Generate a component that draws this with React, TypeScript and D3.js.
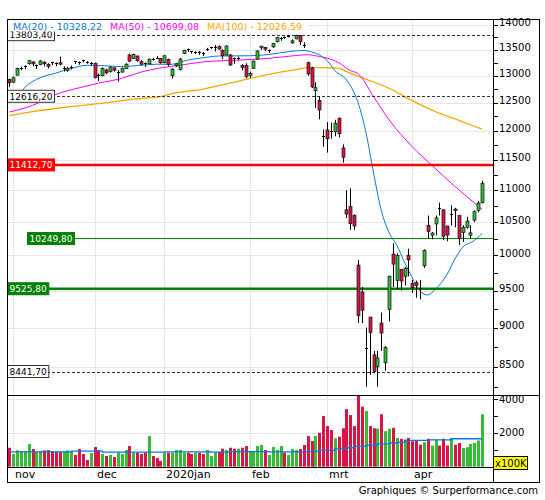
import React from 'react';
import * as d3 from 'd3';

// trading days shown (MM-DD), 31 oct 2019 .. 29 apr 2020
const days = [
  '10-31',
  '11-01', '11-04', '11-05', '11-06', '11-07', '11-08', '11-11', '11-12', '11-13', '11-14', '11-15',
  '11-18', '11-19', '11-20', '11-21', '11-22', '11-25', '11-26', '11-27', '11-28', '11-29',
  '12-02', '12-03', '12-04', '12-05', '12-06', '12-09', '12-10', '12-11', '12-12', '12-13',
  '12-16', '12-17', '12-18', '12-19', '12-20', '12-23', '12-27', '12-30',
  '01-02', '01-03', '01-06', '01-07', '01-08', '01-09', '01-10', '01-13', '01-14', '01-15', '01-16',
  '01-17', '01-20', '01-21', '01-22', '01-23', '01-24', '01-27', '01-28', '01-29', '01-30', '01-31',
  '02-03', '02-04', '02-05', '02-06', '02-07', '02-10', '02-11', '02-12', '02-13', '02-14',
  '02-17', '02-18', '02-19', '02-20', '02-21', '02-24', '02-25', '02-26', '02-27', '02-28',
  '03-02', '03-03', '03-04', '03-05', '03-06', '03-09', '03-10', '03-11', '03-12', '03-13',
  '03-16', '03-17', '03-18', '03-19', '03-20', '03-23', '03-24', '03-25', '03-26', '03-27', '03-30', '03-31',
  '04-01', '04-02', '04-03', '04-06', '04-07', '04-08', '04-09', '04-14', '04-15', '04-16', '04-17',
  '04-20', '04-21', '04-22', '04-23', '04-24', '04-27', '04-28', '04-29',
];

const opens = [
  12930, 12880, 13010, 13135, 13160, 13230, 13265, 13170, 13215, 13260, 13215, 13255, 13235, 13250, 13120, 13100, 13140, 13275, 13255, 13300, 13270, 13210,
  13240, 13010, 13000, 13110, 13080, 13150, 13050, 13070, 13140, 13400, 13330, 13380, 13270, 13240, 13230, 13320, 13350, 13330,
  13250, 13310, 13000, 13190, 13120, 13430, 13510, 13470, 13440, 13460, 13440, 13500, 13530, 13540, 13570, 13490, 13400, 13400, 13340, 13330, 13200, 13200,
  13010, 13140, 13320, 13540, 13550, 13480, 13560, 13660, 13720, 13760, 13770, 13640, 13720, 13780, 13600, 13250, 13150, 12720, 12540, 11910,
  12010, 12000, 11980, 12220, 11700, 10690, 10740, 10600, 9860, 9480, 8730, 9140, 8650, 8500, 9060, 8550, 9240, 10020, 9640, 9800, 9700, 10000,
  9600, 9610, 9530, 9850, 10450, 10300, 10470, 10720, 10690, 10440, 10620, 10700, 10600, 10340, 10420, 10300, 10530, 10680, 10800,
];

const highs = [
  12945, 12985, 13150, 13175, 13200, 13300, 13280, 13215, 13300, 13275, 13240, 13270, 13255, 13370, 13180, 13170, 13195, 13285, 13275, 13310, 13280, 13260,
  13250, 13040, 13160, 13135, 13180, 13160, 13110, 13160, 13240, 13425, 13425, 13390, 13300, 13255, 13330, 13345, 13380, 13340,
  13390, 13330, 13140, 13240, 13340, 13500, 13525, 13480, 13470, 13480, 13460, 13540, 13560, 13600, 13590, 13510, 13590, 13420, 13350, 13370, 13220, 13240,
  13080, 13290, 13490, 13580, 13560, 13510, 13640, 13760, 13760, 13770, 13800, 13710, 13800, 13795, 13650, 13270, 13170, 12880, 12610, 12020,
  12150, 12140, 12190, 12230, 11760, 11000, 11030, 10620, 9935, 9550, 9000, 9140, 8700, 8700, 9200, 8760, 9710, 10180, 10030, 9800, 9830, 10100,
  9650, 9640, 9650, 10090, 10600, 10350, 10600, 10800, 10690, 10440, 10760, 10720, 10600, 10450, 10580, 10450, 10680, 10830, 11150,
];

const lows = [
  12790, 12865, 13005, 13105, 13125, 13215, 13180, 13130, 13200, 13180, 13140, 13205, 13180, 13200, 13080, 13075, 13120, 13225, 13210, 13255, 13230, 13195,
  12950, 12900, 12990, 13030, 13060, 13080, 12890, 13060, 13130, 13260, 13320, 13270, 13200, 13170, 13220, 13290, 13320, 13230,
  13240, 13180, 12950, 13170, 13100, 13420, 13460, 13430, 13420, 13400, 13380, 13480, 13520, 13470, 13500, 13320, 13390, 13190, 13230, 13300, 13100, 12950,
  12960, 13130, 13310, 13500, 13480, 13440, 13540, 13650, 13680, 13720, 13750, 13620, 13710, 13600, 13540, 13000, 12770, 12400, 12200, 11720,
  11620, 11860, 11900, 11880, 11450, 10560, 10380, 10380, 9060, 9060, 8255, 8400, 8420, 8255, 8700, 8450, 9080, 9550, 9520, 9500, 9570, 9700,
  9470, 9400, 9380, 9820, 10250, 10240, 10300, 10600, 10230, 10210, 10450, 10420, 10150, 10200, 10400, 10250, 10500, 10650, 10790,
];

const closes = [
  12867, 12961, 13136, 13148, 13180, 13289, 13228, 13198, 13283, 13230, 13180, 13241, 13207, 13221, 13148, 13138, 13164, 13246, 13236, 13287, 13246, 13236,
  12965, 12989, 13140, 13055, 13166, 13105, 13070, 13141, 13221, 13282, 13407, 13288, 13222, 13212, 13319, 13301, 13337, 13249,
  13386, 13219, 13127, 13227, 13320, 13495, 13483, 13452, 13456, 13432, 13429, 13526, 13548, 13556, 13516, 13388, 13577, 13205, 13324, 13345, 13157, 12982,
  13045, 13282, 13478, 13575, 13514, 13494, 13628, 13750, 13745, 13744, 13784, 13681, 13789, 13664, 13579, 13035, 12790, 12775, 12367, 11890,
  11858, 11985, 12128, 11945, 11542, 10625, 10475, 10439, 9161, 9232, 8742, 8939, 8442, 8610, 8929, 8741, 9701, 9874, 10001, 9633, 9816, 9936,
  9545, 9571, 9526, 10075, 10357, 10333, 10565, 10697, 10280, 10302, 10626, 10676, 10250, 10415, 10514, 10336, 10660, 10796, 11108,
];

// volume, in units of 100K
const volumes = [
  1120, 750, 965, 925, 920, 1340, 1045, 870, 925, 965, 985, 925, 870, 870, 870, 965, 925, 690, 1045, 750, 395, 810,
  1160, 985, 750, 630, 690, 570, 830, 750, 985, 1220, 830, 830, 750, 830, 1810, 630, 510, 335,
  830, 830, 830, 985, 985, 830, 830, 750, 830, 830, 750, 985, 630, 830, 870, 1065, 985, 1120, 1065, 1065, 1120, 1220,
  925, 925, 1220, 1280, 985, 690, 1160, 985, 1220, 830, 690, 1045, 985, 1045, 1280, 1810, 1520, 1810, 2000, 2990,
  2400, 2170, 1680, 1770, 2270, 3400, 3050, 2400, 4200, 3550, 3290, 2400, 2270, 2250, 3100, 2100, 2250, 2300, 1700, 1650, 1600, 1700,
  1500, 1550, 1300, 1450, 1650, 1250, 1600, 1250, 1650, 1250, 1700, 1300, 1400, 1100, 1150, 1350, 1400, 1550, 3100,
];

const monthLabels = ['nov', 'dec', '2020jan', 'feb', 'mrt', 'apr'];

// moving averages: [day index, value]
const ma20: [number, number][] = [
  [0, 12540], [2, 12600], [4, 12780], [7, 12930], [12, 13050], [16, 13140], [20, 13200], [25, 13190],
  [29, 13175], [33, 13195], [38, 13220], [42, 13220], [46, 13300], [50, 13345], [54, 13380], [62, 13385],
  [67, 13410], [72, 13465], [76, 13490], [78, 13460], [80, 13400], [82, 13290], [84, 13100], [87, 12920],
  [90, 12500], [92, 11980], [94, 11280], [96, 10680], [98, 10340], [100, 10150], [102, 9900], [104, 9680],
  [106, 9490], [108, 9440], [110, 9520], [113, 9730], [115, 9950], [117, 10120], [120, 10220], [122, 10328],
];
const ma50: [number, number][] = [
  [0, 12330], [6, 12450], [12, 12650], [19, 12790], [23, 12860], [29, 12950], [34, 13070], [39, 13150],
  [43, 13190], [50, 13265], [59, 13300], [67, 13335], [74, 13390], [77, 13405], [80, 13370], [82, 13340],
  [85, 13250], [88, 13100], [90, 13040], [94, 12610], [98, 12190], [104, 11720], [109, 11410], [115, 11060], [122, 10699],
];
const ma100: [number, number][] = [
  [0, 12264], [6, 12336], [15, 12420], [23, 12480], [32, 12565], [39, 12609], [42, 12664], [50, 12750],
  [59, 12894], [67, 13028], [74, 13117], [78, 13161], [82, 13153], [85, 13142], [87, 13077], [92, 12935],
  [98, 12765], [104, 12537], [110, 12334], [115, 12205], [122, 12027],
];
const volumeMa: [number, number][] = [
  [0, 880], [16, 920], [24, 860], [40, 880], [52, 860], [57, 890], [67, 880], [77, 900], [80, 960],
  [84, 1050], [87, 1120], [89, 1200], [92, 1280], [95, 1350], [98, 1400], [100, 1440], [102, 1560],
  [108, 1580], [114, 1650], [122, 1650],
];

const maNames = ['MA(20)', 'MA(50)', 'MA(100)'];
const maLast = [10328.22, 10699.08, 12026.59];

const levelValues = [13803.4, 12616.2, 11412.7, 10249.8, 9525.8, 8441.7];
const levelKinds = ['dash', 'dash', 'resistance', 'support', 'supportStrong', 'dash'];

const priceTicks = [8500, 9000, 9500, 10000, 10500, 11000, 11500, 12000, 12500, 13000, 13500, 14000];
const volumeTicks = [2000, 4000];

const RED = '#dc1446';
const GREEN = '#36bb36';
const BLUE = '#0a78d6';
const MAGENTA = '#ff00ff';
const ORANGE = '#ffa500';
const GRID = '#e6e6e6';

const levelStyle: Record<string, { line: string; width: number; dash?: string; fill: string; text: string; offset: number }> = {
  dash: { line: '#333', width: 1, dash: '3,2', fill: '#fff', text: '#000', offset: 0 },
  resistance: { line: '#ff0000', width: 2.5, fill: '#ff0000', text: '#fff', offset: 0 },
  support: { line: '#008000', width: 1, fill: '#008000', text: '#fff', offset: 20 },
  supportStrong: { line: '#008000', width: 2.5, fill: '#008000', text: '#fff', offset: 0 },
};

const fmt = (v: number) => v.toFixed(2).replace('.', ',');

export default function App() {
  const left = 7;
  const axisX = 493;
  const right = 539;
  const top = 19;
  const priceBottom = 395;
  const volBottom = 466.7;
  const bottom = 482;

  const n = days.length;
  const x = d3.scaleBand<number>().domain(d3.range(n)).range([7.36, 484]);
  const cx = (i: number) => (x(i) ?? 0) + x.step() / 2;
  const y = d3.scaleLog().domain([8157, 14123]).range([priceBottom, top]);
  const yv = d3.scaleLinear().domain([0, 4000]).range([volBottom, 399]);

  const monthStarts = d3.range(1, n).filter(i => days[i].slice(0, 2) !== days[i - 1].slice(0, 2));

  const maLine = d3.line<[number, number]>().x(d => cx(d[0])).y(d => y(d[1])).curve(d3.curveMonotoneX);
  const volLine = d3.line<[number, number]>().x(d => cx(d[0])).y(d => yv(d[1])).curve(d3.curveStepAfter);

  const minorTicks = priceTicks.flatMap(t => [t, t - 250]).filter(t => y(t) > top);
  const crisp = (v: number) => Math.round(v) + 0.5;

  return (
    <svg width={545} height={500} style={{ position: 'absolute', left: 0, top: 0, background: '#fff' }}
      fontFamily="'DejaVu Sans', Verdana, sans-serif">
      {/* grid */}
      {monthStarts.map(i => (
        <line key={'vg' + i} x1={crisp(cx(i))} x2={crisp(cx(i))} y1={top} y2={volBottom} stroke={GRID} />
      ))}
      {priceTicks.map(t => (
        <line key={'hg' + t} x1={left} x2={axisX} y1={crisp(y(t))} y2={crisp(y(t))} stroke={GRID} />
      ))}
      {volumeTicks.map(t => (
        <line key={'vgv' + t} x1={left} x2={axisX} y1={crisp(yv(t))} y2={crisp(yv(t))} stroke={GRID} />
      ))}

      {/* moving averages */}
      <path d={maLine(ma100) ?? ''} fill="none" stroke={ORANGE} strokeWidth={1.3} />
      <path d={maLine(ma50) ?? ''} fill="none" stroke={MAGENTA} strokeWidth={1} />
      <path d={maLine(ma20) ?? ''} fill="none" stroke={BLUE} strokeWidth={1} />

      {/* level lines */}
      {levelValues.map((v, k) => {
        const s = levelStyle[levelKinds[k]];
        const yy = levelKinds[k] === 'dash' ? crisp(y(v)) : y(v);
        return <line key={'lv' + k} x1={left + s.offset} x2={axisX} y1={yy} y2={yy}
          stroke={s.line} strokeWidth={s.width} strokeDasharray={s.dash} />;
      })}

      {/* candles */}
      {closes.map((c, i) => {
        const o = opens[i];
        const px = Math.round(cx(i));
        const yt = y(Math.max(o, c));
        const yb = y(Math.min(o, c));
        return (
          <g key={'c' + i}>
            <line x1={px + 0.5} x2={px + 0.5} y1={y(highs[i])} y2={y(lows[i])} stroke="#000" />
            {yb - yt < 1.5 ? (
              <line x1={px - 1} x2={px + 2} y1={crisp(yt)} y2={crisp(yt)} stroke="#000" />
            ) : (
              <rect x={px - 1} y={yt} width={3} height={yb - yt} fill={c >= o ? GREEN : RED}
                stroke="#111" strokeWidth={0.7} />
            )}
          </g>
        );
      })}

      {/* volume */}
      {volumes.map((v, i) => {
        const yy = Math.max(priceBottom + 0.5, yv(v));
        return <rect key={'v' + i} x={Math.round(cx(i)) - 1} y={yy} width={3} height={volBottom - yy}
          fill={closes[i] >= opens[i] ? GREEN : RED} />;
      })}
      <path d={volLine(volumeMa) ?? ''} fill="none" stroke={BLUE} strokeWidth={1.3} />

      {/* level labels */}
      {levelValues.map((v, k) => {
        const s = levelStyle[levelKinds[k]];
        const label = fmt(v);
        const w = (label.length - 1) * 5.73 + 2.9 + 4;
        const yy = y(v);
        return (
          <g key={'lb' + k}>
            <rect x={left + s.offset + 0.5} y={yy - 6} width={w} height={12} fill={s.fill}
              stroke={levelKinds[k] === 'dash' ? '#333' : s.fill} />
            <text x={left + s.offset + 2.5} y={yy + 3.3} fontSize={9} fill={s.text}>{label}</text>
          </g>
        );
      })}

      {/* legend */}
      <rect x={left + 1} y={top + 1} width={300} height={11.5} fill="#fff" />
      <text y={30} fontSize={9.5}>
        {maNames.map((name, k) => (
          <tspan key={name} x={13 + k * 97} fill={[BLUE, MAGENTA, ORANGE][k]}>{`${name} - ${fmt(maLast[k])}`}</tspan>
        ))}
      </text>

      {/* right axis */}
      <line x1={axisX + 0.5} x2={axisX + 0.5} y1={top} y2={bottom} stroke="#000" />
      {minorTicks.map(t => (
        <line key={'mt' + t} x1={axisX} x2={axisX + 5} y1={crisp(y(t))} y2={crisp(y(t))} stroke="#000" />
      ))}
      {priceTicks.map(t => (
        <text key={'pt' + t} x={axisX + 6} y={y(t) + 1.5} fontSize={10} fill="#000">{t}</text>
      ))}
      {[1000, 2000, 3000, 4000].map(t => (
        <line key={'vt' + t} x1={axisX} x2={axisX + 5} y1={crisp(yv(t))} y2={crisp(yv(t))} stroke="#000" />
      ))}
      {volumeTicks.map(t => (
        <text key={'vl' + t} x={axisX + 6} y={yv(t) + 3.5} fontSize={10} fill="#000">{t}</text>
      ))}
      <rect x={axisX + 0.5} y={456.5} width={34} height={13} fill="#ffff00" stroke="#000" />
      <text x={axisX + 2} y={467} fontSize={10} fill="#000">x100K</text>

      {/* month labels */}
      {monthStarts.map((i, k) => (
        <text key={'ml' + i} x={Math.round(cx(i)) + 2} y={477.5} fontSize={11} fill="#000">{monthLabels[k]}</text>
      ))}

      {/* panel separators and frame */}
      <line x1={left} x2={right} y1={priceBottom + 0.5} y2={priceBottom + 0.5} stroke="#000" />
      <line x1={left} x2={axisX} y1={Math.round(volBottom) + 0.5} y2={Math.round(volBottom) + 0.5} stroke="#000" />
      <rect x={left + 0.5} y={top + 0.5} width={right - left} height={bottom - top} fill="none" stroke="#000" />

      <text x={538} y={494} fontSize={10} textAnchor="end" fill="#000">Graphiques © Surperformance.com</text>
    </svg>
  );
}
